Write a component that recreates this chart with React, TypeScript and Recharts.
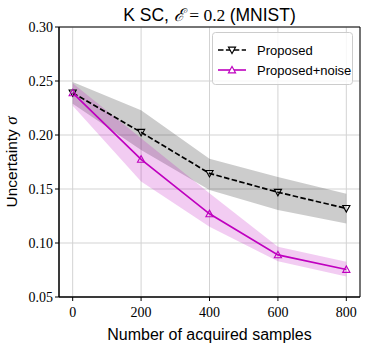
import { ComposedChart, Area, Line, XAxis, YAxis, CartesianGrid, ReferenceArea, Label } from 'recharts'

const samples = [0, 200, 400, 600, 800]
const proposed = [0.239, 0.2025, 0.1645, 0.147, 0.132]
const proposedLow = [0.229, 0.186, 0.149, 0.1305, 0.118]
const proposedHigh = [0.249, 0.223, 0.178, 0.161, 0.1455]
const noisy = [0.239, 0.1775, 0.127, 0.089, 0.0755]
const noisyLow = [0.227, 0.157, 0.115, 0.083, 0.069]
const noisyHigh = [0.248, 0.197, 0.146, 0.0966, 0.0827]
const xTicks = [0, 200, 400, 600, 800]
const yTicks = [0.05, 0.1, 0.15, 0.2, 0.25, 0.3]

const MAGENTA = '#bf00bf'
const SERIF = '"Liberation Serif", serif'
const SANS = '"Liberation Sans", sans-serif'

const data = samples.map((s, i) => ({
  s,
  proposed: proposed[i],
  proposedBand: [proposedLow[i], proposedHigh[i]],
  noisy: noisy[i],
  noisyBand: [noisyLow[i], noisyHigh[i]],
}))

const tri = (cx: number, cy: number, down: boolean, r = 3.6) =>
  down
    ? `M${cx - r},${cy - r * 0.8}L${cx + r},${cy - r * 0.8}L${cx},${cy + r}Z`
    : `M${cx - r},${cy + r * 0.8}L${cx + r},${cy + r * 0.8}L${cx},${cy - r}Z`

const DownDot = (p: any) => (
  <path key={`d-${p.index}`} d={tri(p.cx, p.cy, true)} fill="none" stroke="#000" strokeWidth={1.1} />
)
const UpDot = (p: any) => (
  <path key={`u-${p.index}`} d={tri(p.cx, p.cy, false)} fill="none" stroke={MAGENTA} strokeWidth={1.1} />
)

const YLabel = () => (
  <text
    transform="translate(17,162) rotate(-90)"
    textAnchor="middle"
    fontFamily={SANS}
    fontSize={15.5}
    fill="#000"
  >
    Uncertainty <tspan fontFamily={SERIF} fontStyle="italic" fontSize={17}>σ</tspan>
  </text>
)

export default function App() {
  return (
    <div style={{ position: 'absolute', left: 0, top: 0, width: 370, height: 346, background: '#fff' }}>
      <div
        style={{
          position: 'absolute',
          left: 59,
          width: 301,
          top: 2,
          textAlign: 'center',
          fontFamily: SANS,
          fontSize: 17.5,
          whiteSpace: 'nowrap',
        }}
      >
        K SC, <span style={{ fontFamily: SERIF, fontStyle: 'italic' }}>ℰ</span>
        <span style={{ fontFamily: SERIF }}> = 0.2 </span>(MNIST)
      </div>
      <ComposedChart width={370} height={346} data={data} margin={{ top: 27, right: 10, bottom: 0, left: 0 }}>
        <CartesianGrid stroke="#d3d3d3" strokeWidth={1} />
        <XAxis
          dataKey="s"
          type="number"
          domain={[-40, 840]}
          ticks={xTicks}
          height={49}
          tickSize={4}
          tickMargin={6}
          stroke="#000"
          tick={{ fill: '#000', fontFamily: SERIF, fontSize: 14 }}
        >
          <Label
            value="Number of acquired samples"
            position="insideBottom"
            offset={6}
            style={{ fill: '#000', fontFamily: SANS, fontSize: 16 }}
          />
        </XAxis>
        <YAxis
          type="number"
          domain={[0.05, 0.3]}
          ticks={yTicks}
          width={59}
          tickSize={4}
          tickMargin={2}
          stroke="#000"
          tickFormatter={(v: number) => v.toFixed(2)}
          tick={{ fill: '#000', fontFamily: SERIF, fontSize: 14 }}
          allowDataOverflow
        >
          <Label content={YLabel} />
        </YAxis>
        <Area
          dataKey="proposedBand"
          type="linear"
          stroke="none"
          fill="#000"
          fillOpacity={0.2}
          isAnimationActive={false}
          activeDot={false}
        />
        <Area
          dataKey="noisyBand"
          type="linear"
          stroke="none"
          fill={MAGENTA}
          fillOpacity={0.2}
          isAnimationActive={false}
          activeDot={false}
        />
        <Line
          dataKey="proposed"
          type="linear"
          stroke="#000"
          strokeWidth={1.7}
          strokeDasharray="5.5 2.4"
          dot={DownDot}
          activeDot={false}
          isAnimationActive={false}
        />
        <Line
          dataKey="noisy"
          type="linear"
          stroke={MAGENTA}
          strokeWidth={1.7}
          dot={UpDot}
          activeDot={false}
          isAnimationActive={false}
        />
        <ReferenceArea x1={-40} x2={840} y1={0.05} y2={0.3} fill="none" stroke="#000" strokeWidth={1} />
      </ComposedChart>
      <svg width={142} height={54} style={{ position: 'absolute', left: 212, top: 32 }}>
        <rect x={0.5} y={0.5} width={140} height={52} rx={3} fill="#fff" fillOpacity={0.8} stroke="#ccc" />
        <line x1={6} x2={34} y1={18} y2={18} stroke="#000" strokeWidth={1.6} strokeDasharray="5.5 2.4" />
        <path d={tri(20, 18, true)} fill="#fff" stroke="#000" strokeWidth={1.1} />
        <text x={45} y={23} fontFamily={SANS} fontSize={13}>Proposed</text>
        <line x1={6} x2={34} y1={38} y2={38} stroke={MAGENTA} strokeWidth={1.6} />
        <path d={tri(20, 38, false)} fill="#fff" stroke={MAGENTA} strokeWidth={1.1} />
        <text x={45} y={43} fontFamily={SANS} fontSize={13}>Proposed+noise</text>
      </svg>
    </div>
  )
}
